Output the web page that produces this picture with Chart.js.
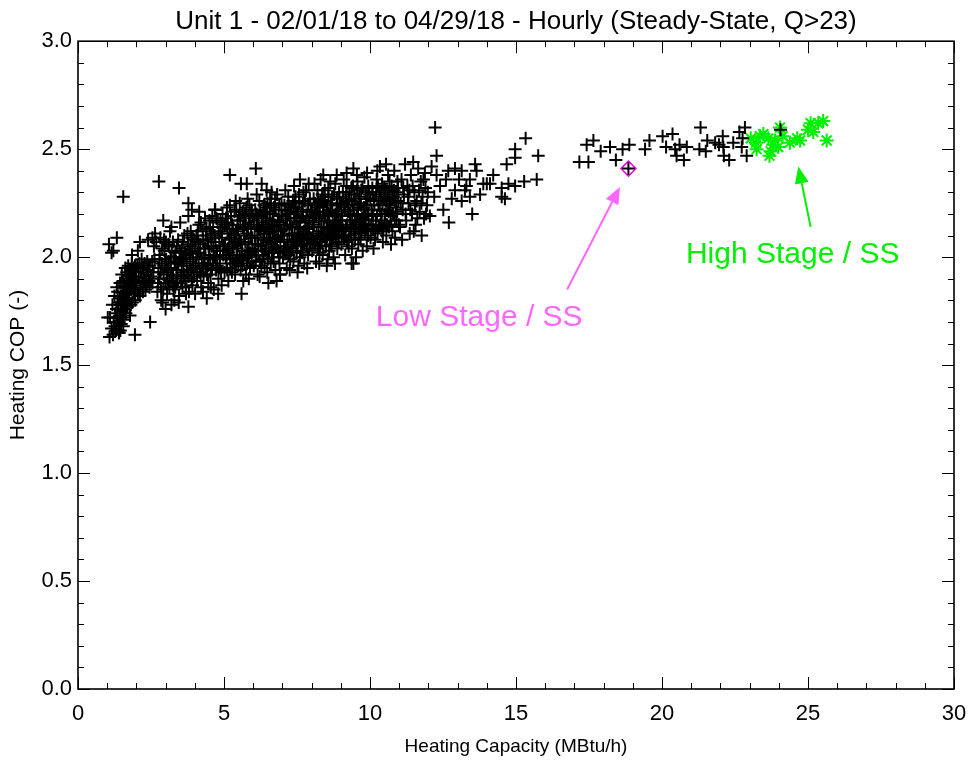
<!DOCTYPE html>
<html>
<head>
<meta charset="utf-8">
<script src="https://cdn.jsdelivr.net/npm/chart.js@4.4.1/dist/chart.umd.min.js"></script>
<style>
  html, body { margin: 0; padding: 0; background: #fff; }
  #wrap { width: 972px; height: 765px; }
</style>
</head>
<body>
<div id="wrap"><canvas id="myChart" width="972" height="765"></canvas></div>
<script>
// axis ticks
const xTicks = [0, 5, 10, 15, 20, 25, 30];
const yTicks = [0.0, 0.5, 1.0, 1.5, 2.0, 2.5, 3.0];

// hourly steady-state points (capacity MBtu/h, COP)
const hourly = [
  // left arm
  [1.02,1.72],[1.08,1.63],[1.10,1.72],[1.15,1.67],[1.18,1.78],[1.22,1.70],[1.25,1.82],[1.28,1.74],[1.30,1.66],[1.33,1.86],
  [1.35,1.78],[1.38,1.70],[1.40,1.65],[1.42,1.81],[1.44,1.88],[1.46,1.75],[1.48,1.69],[1.50,1.92],[1.52,1.84],[1.54,1.78],
  [1.56,1.72],[1.58,1.87],[1.60,1.80],[1.62,1.95],[1.64,1.74],[1.66,1.90],[1.68,1.83],[1.70,1.77],[1.72,1.96],[1.74,1.88],
  [1.76,1.81],[1.78,1.73],[1.80,1.92],[1.82,1.85],[1.84,1.97],[1.86,1.79],[1.88,1.90],[1.90,1.84],[1.92,1.95],[1.94,1.87],
  [1.96,1.80],[1.98,1.93],[2.00,1.89],[2.03,1.96],[2.05,1.83],[2.08,1.91],[2.10,1.97],[2.13,1.86],[2.15,1.93],[2.18,1.99],
  [2.20,1.88],[2.23,1.95],[2.26,1.90],[2.28,1.97],[2.31,1.85],[2.34,1.92],[2.37,1.98],[2.40,1.94],[2.43,1.89],[2.46,1.96],
  [2.50,1.91],[2.54,1.98],[2.58,1.93],[2.62,1.99],
  [1.32,1.76],[1.36,1.84],[1.39,1.79],[1.43,1.73],[1.47,1.82],[1.51,1.76],[1.55,1.89],[1.57,1.81],[1.61,1.86],[1.63,1.78],
  [1.67,1.93],[1.69,1.86],[1.73,1.91],[1.77,1.85],[1.79,1.94],[1.83,1.89],[1.87,1.94],[1.91,1.89],[1.95,1.96],[1.41,1.70],
  [1.45,1.66],[1.53,1.71],[1.59,1.76],[1.27,1.68],[1.34,1.72],[1.49,1.79],[1.65,1.84],[1.71,1.80],[1.81,1.78],[1.97,1.85],
  [2.12,1.82],[2.22,1.84],[2.35,1.87],[2.45,1.86],[2.55,1.88],
  [1.20,1.64],[1.41,1.65],[1.95,1.64],[2.47,1.70],[1.55,1.68],
  [1.06,2.06],[1.21,2.03],[1.33,2.09],[1.55,2.28],[1.15,2.02],[1.85,2.01],[2.05,2.03],
  [2.12,2.07],[2.40,2.08],[2.55,2.09],[2.68,2.07],[2.82,2.09],[2.95,2.08],[3.10,2.06],[2.64,2.11],[3.20,2.14],[2.92,2.17],[2.60,2.05],
  // 2.7 - 4
  [2.72,1.84],[2.75,1.95],[2.78,1.90],[2.80,2.01],[2.84,1.86],[2.87,1.97],[2.90,1.79],[2.93,1.92],[2.96,2.03],[2.99,1.88],
  [3.02,1.99],[3.05,1.83],[3.08,1.94],[3.11,2.05],[3.14,1.89],[3.17,2.00],[3.20,1.78],[3.22,1.92],[3.25,2.07],[3.28,1.85],
  [3.31,1.97],[3.34,2.02],[3.37,1.88],[3.40,1.94],[3.43,2.08],[3.46,1.82],[3.49,1.99],[3.52,1.91],[3.55,2.04],[3.58,1.86],
  [3.61,1.96],[3.64,2.10],[3.67,1.89],[3.70,2.01],[3.73,1.93],[3.76,2.06],[3.78,1.77],[3.80,1.84],[3.83,1.98],[3.86,2.12],
  [3.89,1.90],[3.92,2.03],[3.95,1.95],[3.98,2.08],[2.85,1.80],[3.00,1.76],[3.30,1.80],[3.15,2.12],[3.50,2.16],[3.78,2.19],
  [3.90,2.22],[3.45,1.79],[3.70,1.83],[3.05,1.93],[3.35,1.98],[3.60,2.00],[3.85,2.05],[3.25,1.87],[3.55,1.93],[3.92,1.87],
  [2.74,1.88],[2.79,1.99],[2.83,1.93],[2.88,2.04],[2.92,1.85],[2.97,1.96],[3.01,2.07],[3.06,1.90],[3.10,1.98],[3.13,1.86],
  [3.18,1.95],[3.21,2.03],[3.26,1.91],[3.29,2.00],[3.33,1.86],[3.38,2.05],[3.41,1.90],[3.44,1.97],[3.48,2.03],[3.53,1.88],
  [3.56,1.99],[3.59,2.07],[3.63,1.92],[3.66,2.02],[3.69,1.86],[3.72,1.97],[3.75,2.11],[3.79,1.91],[3.82,2.02],[3.87,1.94],
  [3.90,2.09],[3.94,1.99],[3.97,1.91],
  // 4 - 5
  [4.01,1.83],[4.03,1.96],[4.06,2.10],[4.08,1.89],[4.11,2.02],[4.14,2.15],[4.16,1.93],[4.19,2.06],[4.22,1.86],[4.24,1.99],
  [4.27,2.12],[4.30,1.91],[4.32,2.04],[4.35,2.18],[4.38,1.95],[4.41,1.81],[4.43,2.08],[4.46,1.88],[4.49,2.01],[4.52,2.14],
  [4.54,1.92],[4.57,2.05],[4.60,2.19],[4.62,1.97],[4.65,1.85],[4.68,2.10],[4.70,2.22],[4.73,1.94],[4.76,2.03],[4.78,2.16],
  [4.81,1.90],[4.84,2.07],[4.86,1.99],[4.89,2.12],[4.92,1.87],[4.95,2.20],[4.97,2.01],[4.05,2.00],[4.20,1.92],[4.33,2.00],
  [4.45,1.96],[4.58,2.11],[4.72,2.00],[4.85,1.95],[4.93,2.09],[4.12,2.07],[4.40,2.13],[4.64,2.04],[4.88,2.17],[4.28,1.84],
  [4.55,1.86],[4.80,1.83],[4.15,2.21],[4.69,2.22],
  [4.02,2.04],[4.07,1.93],[4.10,2.12],[4.13,1.97],[4.18,2.02],[4.21,2.16],[4.25,1.95],[4.29,2.08],[4.31,1.97],[4.36,2.04],
  [4.39,2.10],[4.42,1.92],[4.47,2.05],[4.50,2.17],[4.53,1.99],[4.56,2.09],[4.59,1.94],[4.63,2.14],[4.66,2.00],[4.71,2.07],
  [4.74,2.18],[4.77,1.96],[4.82,2.11],[4.87,2.03],[4.90,1.93],[4.94,2.14],[4.98,2.05],
  // 5 - 6
  [5.02,1.93],[5.04,2.06],[5.07,2.18],[5.09,1.97],[5.12,2.11],[5.15,1.89],[5.17,2.02],[5.20,2.24],[5.22,1.95],[5.25,2.09],
  [5.28,2.15],[5.30,1.99],[5.33,2.05],[5.36,2.21],[5.38,1.92],[5.41,2.12],[5.44,2.01],[5.46,2.17],[5.49,1.96],[5.52,2.08],
  [5.54,2.25],[5.57,1.94],[5.60,1.83],[5.62,2.03],[5.65,2.14],[5.67,1.99],[5.70,2.20],[5.73,2.07],[5.75,1.92],[5.78,2.11],
  [5.81,2.27],[5.83,2.00],[5.86,2.16],[5.89,1.95],[5.91,2.09],[5.94,2.22],[5.97,2.04],[5.06,2.00],[5.19,2.13],[5.27,1.93],
  [5.35,2.10],[5.43,1.98],[5.51,2.19],[5.59,2.00],[5.66,1.89],[5.72,2.15],[5.80,2.03],[5.88,2.19],[5.95,1.98],[5.10,2.23],
  [5.40,2.26],[5.85,1.90],[5.14,2.04],[5.47,2.06],[5.77,2.23],
  [5.03,2.15],[5.08,2.03],[5.11,1.94],[5.13,2.16],[5.18,2.08],[5.21,1.99],[5.24,2.19],[5.29,2.04],[5.32,2.13],[5.37,1.97],
  [5.39,2.07],[5.42,2.22],[5.45,2.04],[5.48,2.13],[5.53,2.00],[5.56,2.17],[5.58,2.07],[5.63,1.96],[5.64,2.21],[5.68,2.10],
  [5.71,2.01],[5.74,2.18],[5.79,1.97],[5.82,2.13],[5.84,2.06],[5.87,2.24],[5.90,2.02],[5.93,2.14],[5.96,2.09],[5.99,2.19],
  // 6 - 7
  [6.02,1.96],[6.05,2.10],[6.07,2.22],[6.10,2.01],[6.13,2.15],[6.15,1.92],[6.18,2.06],[6.21,2.26],[6.23,1.98],[6.26,2.12],
  [6.29,2.19],[6.31,2.03],[6.34,2.08],[6.37,2.24],[6.39,1.95],[6.42,2.14],[6.45,2.04],[6.47,2.20],[6.50,1.99],[6.52,1.88],
  [6.55,2.11],[6.58,2.27],[6.60,1.97],[6.63,2.06],[6.66,2.17],[6.68,2.02],[6.71,2.23],[6.74,2.09],[6.76,1.94],[6.79,2.14],
  [6.80,1.89],[6.82,2.29],[6.85,2.03],[6.87,2.19],[6.90,1.97],[6.92,1.92],[6.95,2.12],[6.97,2.25],[6.04,2.03],[6.16,2.18],
  [6.28,1.96],[6.36,2.01],[6.44,2.23],[6.53,2.07],[6.62,2.14],[6.70,1.98],[6.78,2.05],[6.86,2.10],[6.94,2.02],[6.12,2.29],
  [6.33,2.16],[6.57,2.21],[6.75,2.27],[6.91,2.16],[6.22,1.91],[6.48,1.93],
  [6.03,2.17],[6.06,2.06],[6.09,1.98],[6.11,2.20],[6.14,2.09],[6.17,2.01],[6.20,2.13],[6.24,2.22],[6.27,2.05],[6.30,2.15],
  [6.32,1.99],[6.35,2.21],[6.38,2.11],[6.41,2.03],[6.43,2.18],[6.46,2.08],[6.49,2.25],[6.51,2.13],[6.54,2.02],[6.56,2.17],
  [6.59,2.09],[6.61,2.24],[6.64,2.00],[6.67,2.12],[6.69,2.20],[6.72,2.04],[6.73,2.15],[6.77,2.22],[6.81,2.08],[6.84,2.17],
  [6.88,2.00],[6.89,2.24],[6.93,2.07],[6.96,2.19],[6.99,2.10],
  // 7 - 8
  [7.02,2.00],[7.04,2.13],[7.07,2.24],[7.09,2.04],[7.12,2.17],[7.15,1.95],[7.17,2.08],[7.20,2.28],[7.22,2.01],[7.25,2.15],
  [7.28,2.21],[7.30,2.06],[7.33,2.11],[7.36,2.26],[7.38,1.98],[7.41,2.18],[7.44,2.07],[7.46,2.23],[7.49,2.02],[7.52,1.93],
  [7.54,2.14],[7.57,2.29],[7.60,2.00],[7.62,2.09],[7.65,2.19],[7.67,2.05],[7.70,2.25],[7.73,2.12],[7.75,1.97],[7.78,2.16],
  [7.81,2.31],[7.83,2.06],[7.86,2.21],[7.88,2.01],[7.91,2.14],[7.94,2.27],[7.96,2.09],[7.06,2.07],[7.18,2.20],[7.27,1.99],
  [7.35,2.04],[7.43,2.25],[7.51,2.10],[7.59,2.17],[7.68,2.02],[7.76,2.08],[7.84,2.13],[7.93,2.04],[7.10,2.31],[7.40,2.33],
  [7.60,2.36],[7.72,2.30],[7.90,2.34],[7.25,1.94],[7.55,1.96],[7.85,1.95],
  [7.01,2.19],[7.05,2.04],[7.08,2.13],[7.11,2.22],[7.14,2.02],[7.16,2.15],[7.19,2.05],[7.21,2.24],[7.24,2.10],[7.26,2.18],
  [7.29,2.03],[7.32,2.23],[7.34,2.14],[7.37,2.07],[7.39,2.20],[7.42,2.11],[7.45,2.28],[7.48,2.16],[7.50,2.05],[7.53,2.21],
  [7.56,2.08],[7.58,2.25],[7.61,2.13],[7.64,2.03],[7.66,2.22],[7.69,2.10],[7.71,2.19],[7.74,2.06],[7.77,2.26],[7.80,2.11],
  [7.82,2.18],[7.87,2.09],[7.89,2.24],[7.92,2.17],[7.95,2.06],[7.98,2.21],
  // 8 - 9
  [8.02,2.03],[8.04,2.16],[8.07,2.27],[8.09,2.07],[8.12,2.20],[8.15,1.98],[8.17,2.11],[8.20,2.31],[8.22,2.04],[8.25,2.18],
  [8.28,2.24],[8.30,2.09],[8.33,2.14],[8.36,2.29],[8.38,2.01],[8.40,2.38],[8.41,2.21],[8.44,2.10],[8.46,2.26],[8.49,2.05],
  [8.52,1.96],[8.54,2.17],[8.57,2.32],[8.60,2.03],[8.62,2.12],[8.65,2.22],[8.67,2.08],[8.70,2.28],[8.73,2.15],[8.75,2.00],
  [8.78,2.19],[8.81,2.34],[8.83,2.09],[8.86,2.38],[8.86,2.24],[8.88,2.04],[8.91,2.17],[8.94,2.30],[8.96,2.12],[8.06,2.10],
  [8.18,2.23],[8.27,2.02],[8.35,2.07],[8.43,2.28],[8.51,2.13],[8.59,2.20],[8.68,2.05],[8.76,2.11],[8.84,2.16],[8.93,2.07],
  [8.10,2.34],[8.31,2.36],[8.64,2.35],[8.26,1.97],[8.55,1.99],[8.80,1.97],
  [8.01,2.22],[8.03,2.09],[8.08,2.15],[8.11,2.25],[8.13,2.06],[8.16,2.19],[8.19,2.08],[8.21,2.27],[8.24,2.12],[8.26,2.21],
  [8.29,2.05],[8.32,2.26],[8.34,2.17],[8.37,2.10],[8.39,2.23],[8.42,2.14],[8.45,2.31],[8.47,2.19],[8.50,2.08],[8.53,2.24],
  [8.56,2.11],[8.58,2.28],[8.61,2.16],[8.63,2.06],[8.66,2.25],[8.69,2.13],[8.71,2.21],[8.74,2.09],[8.77,2.29],[8.79,2.14],
  [8.82,2.20],[8.85,2.12],[8.87,2.27],[8.90,2.21],[8.92,2.10],[8.95,2.24],[8.98,2.17],
  // 9 - 10
  [9.02,2.06],[9.04,2.19],[9.07,2.30],[9.09,2.10],[9.12,2.23],[9.15,2.01],[9.17,2.14],[9.20,2.39],[9.20,2.33],[9.22,2.07],
  [9.25,2.21],[9.28,2.27],[9.30,2.12],[9.33,2.17],[9.36,2.32],[9.37,1.97],[9.38,2.04],[9.41,2.24],[9.43,2.41],[9.44,2.13],
  [9.46,2.29],[9.49,2.08],[9.52,2.00],[9.54,2.20],[9.57,2.35],[9.60,2.06],[9.62,2.15],[9.65,2.25],[9.67,2.11],[9.70,2.31],
  [9.73,2.18],[9.75,2.03],[9.78,2.22],[9.81,2.37],[9.83,2.12],[9.86,2.27],[9.89,2.05],[9.91,2.20],[9.94,2.33],[9.96,2.15],
  [9.06,2.13],[9.18,2.26],[9.27,2.05],[9.35,2.10],[9.48,2.16],[9.59,2.23],[9.68,2.08],[9.76,2.14],[9.84,2.19],[9.93,2.10],
  [9.10,2.36],[9.55,2.38],[9.90,2.39],
  [9.01,2.25],[9.03,2.12],[9.05,2.17],[9.08,2.28],[9.11,2.09],[9.14,2.22],[9.16,2.10],[9.19,2.30],[9.21,2.15],[9.24,2.24],
  [9.26,2.08],[9.29,2.29],[9.31,2.20],[9.34,2.13],[9.36,2.26],[9.39,2.17],[9.42,2.33],[9.45,2.22],[9.47,2.11],[9.50,2.27],
  [9.53,2.14],[9.56,2.31],[9.58,2.19],[9.61,2.09],[9.63,2.28],[9.66,2.16],[9.69,2.24],[9.71,2.12],[9.74,2.32],[9.77,2.17],
  [9.79,2.23],[9.82,2.15],[9.85,2.30],[9.88,2.24],[9.90,2.13],[9.92,2.27],[9.95,2.20],[9.98,2.29],
  // 10 - 11
  [10.02,2.09],[10.05,2.22],[10.08,2.32],[10.10,2.13],[10.13,2.26],[10.17,2.08],[10.20,2.17],[10.23,2.36],[10.26,2.11],[10.29,2.24],
  [10.32,2.30],[10.34,2.42],[10.35,2.15],[10.38,2.20],[10.41,2.34],[10.44,2.07],[10.47,2.27],[10.50,2.16],[10.53,2.31],[10.56,2.10],
  [10.59,2.22],[10.62,2.38],[10.65,2.14],[10.68,2.25],[10.71,2.19],[10.74,2.33],[10.77,2.12],[10.80,2.28],[10.83,2.40],[10.86,2.09],
  [10.88,2.23],[10.91,2.17],[10.94,2.35],[10.97,2.26],[10.12,2.04],[10.42,2.12],[10.72,2.06],[10.25,2.40],[10.55,2.43],[10.66,2.30],
  [10.90,2.30],
  [10.01,2.27],[10.04,2.15],[10.07,2.20],[10.09,2.30],[10.11,2.19],[10.15,2.24],[10.18,2.12],[10.21,2.29],[10.24,2.19],[10.27,2.33],
  [10.30,2.14],[10.33,2.22],[10.37,2.28],[10.40,2.17],[10.43,2.25],[10.46,2.13],[10.49,2.32],[10.52,2.20],[10.54,2.26],[10.58,2.15],
  [10.61,2.29],[10.64,2.21],[10.67,2.35],[10.70,2.24],[10.73,2.15],[10.76,2.27],[10.79,2.20],[10.82,2.31],[10.85,2.17],[10.87,2.26],
  [10.93,2.21],[10.96,2.32],[10.99,2.15],
  // 11 - 12
  [11.03,2.14],[11.08,2.36],[11.12,2.22],[11.16,2.29],[11.20,2.43],[11.24,2.17],[11.28,2.33],[11.32,2.25],[11.36,2.11],[11.40,2.38],
  [11.44,2.20],[11.48,2.44],[11.52,2.30],[11.56,2.15],[11.60,2.26],[11.65,2.41],[11.70,2.21],[11.74,2.35],[11.77,2.10],[11.80,2.28],
  [11.85,2.18],[11.90,2.32],[11.95,2.24],[11.10,2.08],[11.50,2.12],[11.88,2.39],[11.35,2.31],
  [11.05,2.25],[11.14,2.32],[11.22,2.20],[11.30,2.28],[11.38,2.22],[11.46,2.33],[11.54,2.24],[11.62,2.18],[11.68,2.31],[11.76,2.25],
  [11.83,2.36],[11.92,2.20],[11.98,2.30],
  // 12 - 16
  [12.05,2.19],[12.11,2.42],[12.23,2.60],[12.28,2.47],[12.28,2.38],[12.20,2.28],[12.40,2.33],[12.51,2.22],[12.60,2.36],[12.68,2.40],
  [12.80,2.27],[12.91,2.31],[12.91,2.41],[13.05,2.36],[13.14,2.26],[13.14,2.40],[13.25,2.31],[13.42,2.36],[13.42,2.28],[13.60,2.43],
  [13.65,2.40],[13.77,2.29],[13.88,2.34],[14.00,2.34],[14.11,2.34],[14.22,2.38],[14.51,2.32],[14.51,2.28],[14.62,2.27],[14.68,2.43],
  [14.74,2.34],[14.97,2.33],[14.97,2.46],[14.97,2.50],[15.28,2.35],[15.33,2.55],[15.71,2.36],[15.76,2.47],[13.50,2.20],[12.70,2.16],
  [13.30,2.33],
  // upper / lower stragglers in the band
  [2.77,2.35],[3.46,2.32],[3.78,2.25],[5.20,2.38],[5.58,2.34],[5.78,2.34],[6.09,2.41],[6.29,2.34],[6.46,2.31],[6.63,2.30],
  [4.69,2.22],[9.43,1.97],[6.92,1.92],
  // 17 - 24
  [17.17,2.44],[17.48,2.44],[17.42,2.52],[17.65,2.54],[17.90,2.49],[18.22,2.51],[18.42,2.45],[18.65,2.50],[18.88,2.52],[18.85,2.41],
  [19.42,2.50],[19.57,2.54],[20.02,2.56],[20.14,2.51],[20.36,2.57],[20.45,2.50],[20.50,2.47],[20.75,2.45],[20.85,2.51],[21.28,2.50],
  [21.32,2.60],[21.50,2.49],[21.55,2.54],[21.82,2.53],[22.08,2.56],[22.10,2.51],[22.12,2.47],[22.30,2.45],[22.44,2.53],[22.65,2.58],
  [22.84,2.60],[22.73,2.51],[22.90,2.47],[22.76,2.55],[24.06,2.59],[21.95,2.52],[20.60,2.52]
];

// high stage steady-state points
const highStage = [
  [23.04,2.55],[23.22,2.53],[23.24,2.50],[23.47,2.57],[23.64,2.55],[23.72,2.49],[23.68,2.47],[23.87,2.54],[23.98,2.51],[24.04,2.60],
  [24.13,2.56],[24.38,2.53],[24.63,2.55],[24.73,2.54],[25.00,2.59],[25.09,2.62],[25.18,2.58],[25.35,2.62],[25.52,2.63],[25.64,2.54],
  [23.35,2.56],[23.80,2.52]
];

// low stage steady-state point
const lowStage = [[18.85, 2.41]];

const magenta = '#ff66ff';
const green = '#00f000';

// labels and arrows, in data units
const notes = [
  { text: 'Low Stage / SS', color: magenta, at: [10.2, 1.72], from: [16.75, 1.85], to: [18.56, 2.325] },
  { text: 'High Stage / SS', color: green, at: [20.82, 2.01], from: [25.09, 2.14], to: [24.67, 2.42] }
];

const frameTicks = {
  id: 'frameTicks',
  afterDraw(chart) {
    const { ctx, chartArea: a, scales: { x, y } } = chart;
    ctx.save();
    ctx.strokeStyle = '#000';
    ctx.lineWidth = 1;
    ctx.beginPath();
    for (let i = 0; i <= 30; i++) {
      const px = Math.round(x.getPixelForValue(i)) + 0.5;
      const len = i % 5 === 0 ? 12 : 6;
      ctx.moveTo(px, a.bottom); ctx.lineTo(px, a.bottom - len);
      ctx.moveTo(px, a.top); ctx.lineTo(px, a.top + len);
    }
    for (let i = 0; i <= 30; i++) {
      const py = Math.round(y.getPixelForValue(i / 10)) + 0.5;
      const len = i % 5 === 0 ? 12 : 6;
      ctx.moveTo(a.left, py); ctx.lineTo(a.left + len, py);
      ctx.moveTo(a.right, py); ctx.lineTo(a.right - len, py);
    }
    ctx.stroke();
    ctx.lineWidth = 1.6;
    ctx.strokeRect(a.left, a.top, a.right - a.left, a.bottom - a.top);

    // annotations
    notes.forEach(n => {
      const x0 = x.getPixelForValue(n.from[0]), y0 = y.getPixelForValue(n.from[1]);
      const x1 = x.getPixelForValue(n.to[0]), y1 = y.getPixelForValue(n.to[1]);
      const ang = Math.atan2(y1 - y0, x1 - x0);
      const hl = 17, hw = 7;
      const bx = x1 - hl * Math.cos(ang), by = y1 - hl * Math.sin(ang);
      ctx.strokeStyle = n.color;
      ctx.fillStyle = n.color;
      ctx.lineWidth = 2;
      ctx.beginPath();
      ctx.moveTo(x0, y0); ctx.lineTo(bx, by);
      ctx.stroke();
      ctx.beginPath();
      ctx.moveTo(x1, y1);
      ctx.lineTo(bx + hw * Math.sin(ang), by - hw * Math.cos(ang));
      ctx.lineTo(bx - hw * Math.sin(ang), by + hw * Math.cos(ang));
      ctx.closePath();
      ctx.fill();
      ctx.font = "30px 'Liberation Sans', Arial, sans-serif";
      ctx.textBaseline = 'middle';
      ctx.textAlign = 'left';
      ctx.fillText(n.text, x.getPixelForValue(n.at[0]), y.getPixelForValue(n.at[1]));
    });
    ctx.restore();
  }
};

Chart.defaults.font.family = "'Liberation Sans', Arial, sans-serif";
Chart.defaults.color = '#000';

const ctx = document.getElementById('myChart');
new Chart(ctx, {
  type: 'scatter',
  data: {
    datasets: [
      {
        label: 'Hourly',
        data: hourly.map(p => ({ x: p[0], y: p[1] })),
        pointStyle: 'cross',
        pointRadius: 6.5,
        borderColor: '#000',
        backgroundColor: '#000',
        borderWidth: 2,
        order: 1
      },
      {
        label: 'High Stage / SS',
        data: highStage.map(p => ({ x: p[0], y: p[1] })),
        pointStyle: 'star',
        pointRadius: 7,
        borderColor: green,
        backgroundColor: green,
        borderWidth: 2,
        order: 2
      },
      {
        label: 'Low Stage / SS',
        data: lowStage.map(p => ({ x: p[0], y: p[1] })),
        pointStyle: 'rectRot',
        pointRadius: 7.5,
        borderColor: '#ff00ff',
        backgroundColor: 'rgba(0,0,0,0)',
        borderWidth: 1.5,
        order: 3
      }
    ]
  },
  options: {
    responsive: false,
    animation: false,
    events: [],
    layout: { padding: { top: 0, right: 18, bottom: 0, left: 0 } },
    plugins: {
      legend: { display: false },
      tooltip: { enabled: false },
      title: {
        display: true,
        fullSize: false,
        text: 'Unit 1 - 02/01/18 to 04/29/18 - Hourly (Steady-State, Q>23)',
        font: { size: 26, weight: 'normal' },
        color: '#000',
        padding: { top: 6, bottom: 4 }
      }
    },
    scales: {
      x: {
        type: 'linear',
        min: 0,
        max: 30,
        afterFit: s => { s.height = 76; s.paddingLeft = 0; s.paddingRight = 0; },
        afterBuildTicks: s => { s.ticks = xTicks.map(v => ({ value: v })); },
        grid: { display: false, drawTicks: false },
        border: { display: false },
        ticks: { font: { size: 22 }, padding: 12, color: '#000', maxRotation: 0 },
        title: {
          display: true,
          text: 'Heating Capacity (MBtu/h)',
          font: { size: 19 },
          color: '#000',
          padding: { top: 0, bottom: 7 }
        }
      },
      y: {
        type: 'linear',
        min: 0,
        max: 3,
        afterFit: s => { s.width = 78; s.paddingTop = 0; s.paddingBottom = 0; },
        afterBuildTicks: s => { s.ticks = yTicks.map(v => ({ value: v })); },
        grid: { display: false, drawTicks: false },
        border: { display: false },
        ticks: { font: { size: 22 }, padding: 6, color: '#000', callback: v => v.toFixed(1) },
        title: {
          display: true,
          text: 'Heating COP (-)',
          font: { size: 21 },
          color: '#000',
          padding: { top: 6, bottom: 0 }
        }
      }
    }
  },
  plugins: [frameTicks]
});
</script>
</body>
</html>
